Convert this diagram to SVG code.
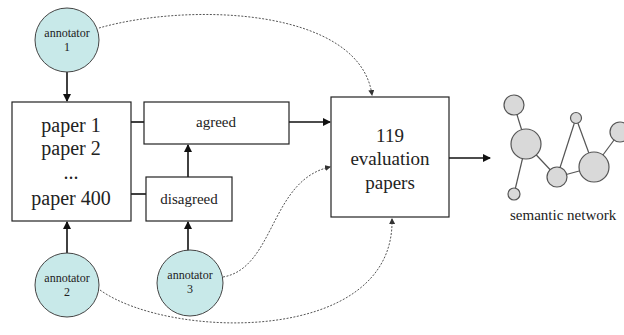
<svg xmlns="http://www.w3.org/2000/svg" width="624" height="335" viewBox="0 0 624 335" font-family="'Liberation Serif', 'DejaVu Serif', serif">
<style>
text{font-family:'Liberation Serif','DejaVu Serif','Times New Roman',serif;fill:#222;text-anchor:middle}
.ann{fill:#c8e9e9;stroke:#444;stroke-width:1}
.box{fill:#fff;stroke:#222;stroke-width:1.2}
.net circle{fill:#d9d9d9;stroke:#555;stroke-width:1.2}
.net line{stroke:#555;stroke-width:1.2}
.solid{stroke:#111;stroke-width:1.6;fill:none}
.dot{stroke:#555;stroke-width:1;stroke-dasharray:2 1.5;fill:none}
</style>
<defs>
<marker id="ah" markerWidth="8" markerHeight="8" refX="7" refY="4" orient="auto" markerUnits="userSpaceOnUse"><path d="M0,0 L8,4 L0,8 z" fill="#111"/></marker>
<marker id="ahs" markerWidth="6" markerHeight="6" refX="5" refY="3" orient="auto" markerUnits="userSpaceOnUse"><path d="M0,0 L6,3 L0,6 z" fill="#333"/></marker>
</defs>
<g id="connectors">
<line class="solid" x1="67" y1="72" x2="67" y2="101" marker-end="url(#ah)"/>
<line class="solid" x1="67" y1="253" x2="67" y2="222" marker-end="url(#ah)"/>
<line class="solid" x1="188" y1="251" x2="188" y2="222" marker-end="url(#ah)"/>
<line class="solid" x1="188" y1="177" x2="188" y2="145" marker-end="url(#ah)"/>
<line class="solid" x1="131" y1="122" x2="144" y2="122"/>
<line class="solid" x1="131" y1="194" x2="146" y2="194"/>
<line class="solid" x1="289" y1="122" x2="330" y2="122" marker-end="url(#ah)"/>
<line class="solid" x1="449" y1="158" x2="490" y2="158" marker-end="url(#ah)"/>
<path class="dot" d="M99 28 C190 2 360 8 372 95" marker-end="url(#ahs)"/>
<path class="dot" d="M223 277 C275 268 270 180 330 167" marker-end="url(#ahs)"/>
<path class="dot" d="M100 290 C170 340 395 345 392 219" marker-end="url(#ahs)"/>
</g>
<g id="annotator1"><circle class="ann" cx="67" cy="40" r="32"/><text x="67" y="37" font-size="12">annotator</text><text x="67" y="51" font-size="12">1</text></g>
<g id="annotator2"><circle class="ann" cx="67" cy="285" r="32"/><text x="67" y="282" font-size="12">annotator</text><text x="67" y="296" font-size="12">2</text></g>
<g id="annotator3"><circle class="ann" cx="190" cy="283" r="33"/><text x="190" y="279" font-size="12">annotator</text><text x="190" y="293" font-size="12">3</text></g>
<g id="papers"><rect class="box" x="12" y="102" width="119" height="119"/>
<text x="71" y="132" font-size="20">paper 1</text><text x="71" y="155" font-size="20">paper 2</text><text x="71" y="179" font-size="20">...</text><text x="71" y="205" font-size="20">paper 400</text></g>
<g id="agreed"><rect class="box" x="144" y="102" width="145" height="42"/><text x="216" y="127" font-size="15">agreed</text></g>
<g id="disagreed"><rect class="box" x="146" y="177" width="86" height="44"/><text x="189" y="204" font-size="15">disagreed</text></g>
<g id="evaluation"><rect class="box" x="331" y="97" width="118" height="120"/>
<text x="390" y="142" font-size="19">119</text><text x="390" y="165" font-size="19">evaluation</text><text x="390" y="189" font-size="19">papers</text></g>
<g id="network" class="net">
<line x1="514" y1="105" x2="526" y2="144"/><line x1="526" y1="144" x2="514" y2="194"/><line x1="526" y1="144" x2="557" y2="177"/>
<line x1="557" y1="177" x2="576" y2="118"/><line x1="576" y1="118" x2="594" y2="167"/><line x1="557" y1="177" x2="594" y2="167"/><line x1="594" y1="167" x2="620" y2="132"/>
<circle cx="514" cy="105" r="10"/><circle cx="526" cy="144" r="15"/><circle cx="514" cy="194" r="6"/><circle cx="557" cy="177" r="10"/>
<circle cx="576" cy="118" r="5.5"/><circle cx="594" cy="167" r="15"/><circle cx="620" cy="132" r="10"/>
<text x="510" y="220" font-size="15" style="text-anchor:start">semantic network</text></g>
</svg>
